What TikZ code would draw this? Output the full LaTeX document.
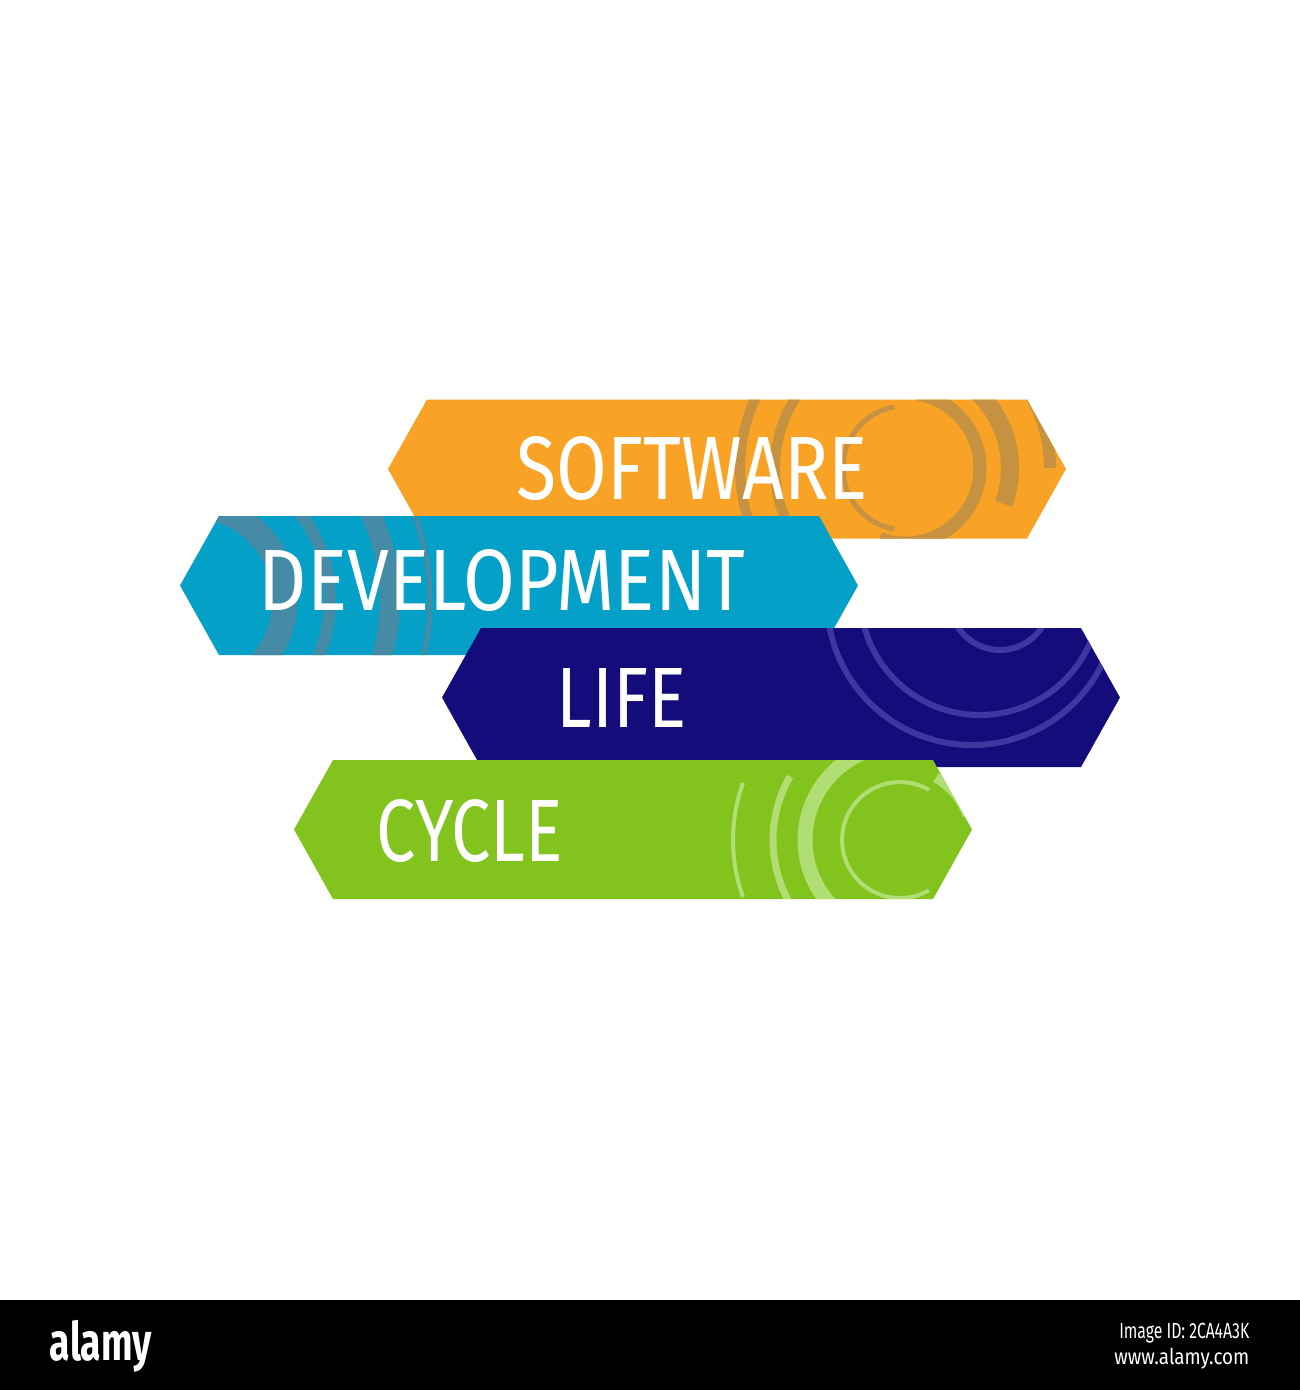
\documentclass[tikz,border=0pt]{standalone}
\usepackage{fontspec}
\setmainfont{Fira Sans}
\usepackage{graphicx}

\definecolor{softorange}{RGB}{248,163,38}
\definecolor{softarc}{RGB}{198,146,66}
\definecolor{devblue}{RGB}{4,160,200}
\definecolor{devarc}{RGB}{70,139,166}
\definecolor{lifenavy}{RGB}{20,12,122}
\definecolor{lifearc}{RGB}{60,56,160}
\definecolor{cyclegreen}{RGB}{130,195,30}
\definecolor{cyclearc}{RGB}{176,221,116}

% banner outline, given by its left tip
\newcommand{\hexat}[2]{(#1,#2) -- ++(0.39,0.695) -- ++(6.0,0) -- ++(0.39,-0.695) -- ++(-0.39,-0.695) -- ++(-6.0,0) -- cycle}

\begin{document}
\begin{tikzpicture}[
  word/.style={text=white, inner sep=0pt},
  foot/.style={text=white, inner sep=0pt, anchor=east}]
 \useasboundingbox (0,0) rectangle (13,-13.9);
 \fill[white] (0,0) rectangle (13,-13.9);

 \fill[softorange] \hexat{3.88}{-4.69};
 \begin{scope}
  \clip \hexat{3.88}{-4.69};
  \draw[softarc, line width=0.05cm] (9.05,-4.68) ++(100:0.62) arc (100:260:0.62);
  \draw[softarc, line width=0.13cm] (9.05,-4.68) ++(80:0.75) arc (80:-110:0.75);
  \draw[softarc, line width=0.18cm] (9.05,-4.68) ++(75:1.05) arc (75:-20:1.05);
  \draw[softarc, line width=0.10cm] (9.05,-4.68) ++(95:1.30) arc (95:215:1.30);
  \draw[softarc, line width=0.10cm] (9.05,-4.68) ++(100:1.65) arc (100:200:1.65);
  \draw[softarc, line width=0.12cm] (9.05,-4.68) ++(0:1.45) arc (0:40:1.45);
 \end{scope}
 \node[word] (soft) at (6.925,-4.685) {\resizebox{3.51cm}{0.63cm}{SOFTWARE}};

 \fill[devblue] \hexat{1.80}{-5.855};
 \begin{scope}
  \clip \hexat{1.80}{-5.855};
  \draw[devarc, line width=0.25cm] (1.90,-6.0) ++(-90:0.95) arc (-90:90:0.95);
  \draw[devarc, line width=0.12cm] (1.90,-6.0) ++(-90:1.40) arc (-90:90:1.40);
  \draw[devarc, line width=0.20cm] (1.90,-6.0) ++(-90:2.00) arc (-90:90:2.00);
  \draw[devarc, line width=0.05cm] (1.90,-6.0) ++(-90:2.40) arc (-90:90:2.40);
 \end{scope}
 \node[word] (devel) at (5.02,-5.805) {\resizebox{4.86cm}{0.61cm}{DEVELOPMENT}};

 \fill[lifenavy] \hexat{4.42}{-6.975};
 \begin{scope}
  \clip \hexat{4.42}{-6.975};
  \draw[lifearc, line width=0.06cm] (9.72,-6.0) ++(165:1.45) arc (165:375:1.45);
  \draw[lifearc, line width=0.06cm] (9.80,-5.95) ++(190:1.20) arc (190:345:1.20);
  \draw[lifearc, line width=0.06cm] (10.0,-6.0) ++(200:0.50) arc (200:340:0.50);
 \end{scope}
 \node[word] (life) at (6.22,-6.975) {\resizebox{1.30cm}{0.59cm}{LIFE}};

 \fill[cyclegreen] \hexat{2.94}{-8.295};
 \begin{scope}
  \clip \hexat{2.94}{-8.295};
  \draw[cyclearc, line width=0.04cm] (9.0,-8.40) ++(60:0.58) arc (60:300:0.58);
  \draw[cyclearc, line width=0.10cm] (9.0,-8.40) ++(20:0.72) arc (20:60:0.72);
  \draw[cyclearc, line width=0.15cm] (9.0,-8.40) ++(100:0.95) arc (100:250:0.95);
  \draw[cyclearc, line width=0.07cm] (9.0,-8.40) ++(150:1.27) arc (150:215:1.27);
  \draw[cyclearc, line width=0.04cm] (9.0,-8.40) ++(160:1.67) arc (160:200:1.67);
 \end{scope}
 \node[word] (cycle) at (4.70,-8.31) {\resizebox{1.86cm}{0.62cm}{CYCLE}};

 \fill[black] (0,-13.0) rectangle (13,-13.9);
 \node[word] (logo) at (1.01,-13.46) {\resizebox*{1.02cm}{0.52cm}{\bfseries alamy}};
 \node[foot] (imgid) at (12.50,-13.335) {\resizebox*{1.30cm}{0.20cm}{Image ID: 2CA4A3K}};
 \node[foot] (site) at (12.50,-13.59) {\resizebox*{1.35cm}{0.21cm}{www.alamy.com}};
\end{tikzpicture}
\end{document}
